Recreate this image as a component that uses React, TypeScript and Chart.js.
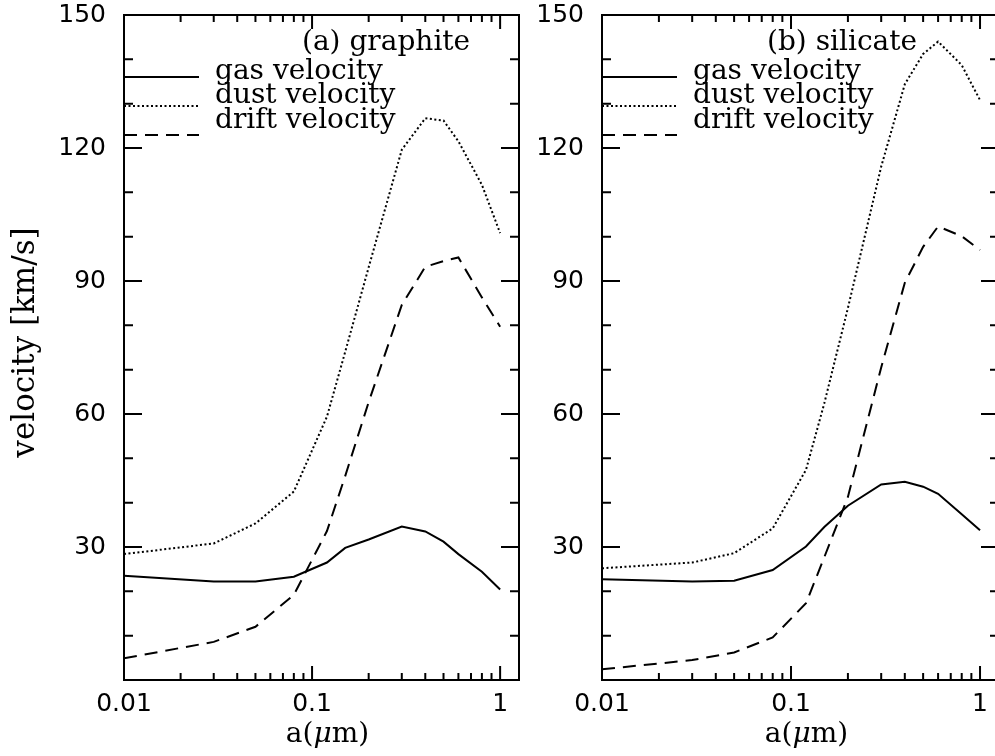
import { useEffect, useRef } from "react";
import { Chart, registerables } from "chart.js";

Chart.register(...registerables);

// ---- data ----
const grainSizes = [0.01, 0.03, 0.05, 0.08, 0.12, 0.15, 0.2, 0.3, 0.4, 0.5, 0.6, 0.8, 1.0];

const graphiteGas = [23.5, 22.2, 22.2, 23.3, 26.5, 29.8, 31.7, 34.6, 33.5, 31.2, 28.4, 24.4, 20.4];
const graphiteDust = [28.4, 30.8, 35.3, 42.5, 59.4, 74.0, 93.1, 119.6, 126.7, 126.2, 121.5, 111.7, 100.8];
const graphiteDrift = [4.9, 8.6, 12.0, 19.2, 33.6, 46.0, 62.7, 84.6, 93.2, 94.5, 95.3, 86.3, 79.7];

const silicateGas = [22.7, 22.2, 22.4, 24.8, 30.1, 34.5, 39.3, 44.1, 44.7, 43.6, 42.0, 37.4, 33.8];
const silicateDust = [25.2, 26.5, 28.6, 34.2, 47.4, 62.4, 83.9, 115.8, 134.4, 141.2, 144.0, 138.7, 130.8];
const silicateDrift = [2.4, 4.5, 6.2, 9.6, 17.3, 27.7, 41.3, 70.5, 89.6, 97.7, 102.3, 100.1, 97.0];

const seriesNames = ["gas velocity", "dust velocity", "drift velocity"];
const panelTitles = ["(a) graphite", "(b) silicate"];
const yTickValues = [30, 60, 90, 120, 150];
const xTickValues = [0.01, 0.1, 1];
const xTickLabels = ["0.01", "0.1", "1"];
const yTitle = "velocity [km/s]";

const X_MIN = 0.01;
const X_MAX = 1.26;
const Y_MIN = 0;
const Y_MAX = 150;

const SANS = '"DejaVu Sans", sans-serif';
const SERIF = '"DejaVu Serif", serif';
const SERIF_SIZE = 28;

const DASHES: number[][] = [[], [2, 2.5], [13, 8]];

type PanelCfg = {
  canvasLeft: number;
  canvasWidth: number;
  axisWidth: number;
  rightPad: number;
  title: string;
  titleDx: number;
  showYTitle: boolean;
  series: number[][];
};

const framePlugin = {
  id: "frame",
  afterDatasetsDraw(chart: any, _args: any, opts: any) {
    const { ctx, chartArea: a, scales } = chart;
    const xs = scales.x;
    const ys = scales.y;
    ctx.save();
    ctx.strokeStyle = "#000";
    ctx.fillStyle = "#000";
    ctx.lineWidth = 2;
    ctx.setLineDash([]);
    ctx.strokeRect(a.left, a.top, a.right - a.left, a.bottom - a.top);

    ctx.beginPath();
    for (let v = Y_MIN; v <= Y_MAX; v += 10) {
      const y = ys.getPixelForValue(v);
      const len = v % 30 === 0 ? 18 : 9;
      ctx.moveTo(a.left, y);
      ctx.lineTo(a.left + len, y);
      ctx.moveTo(a.right, y);
      ctx.lineTo(a.right - len, y);
    }
    for (const d of [0.01, 0.1, 1]) {
      for (let m = 1; m <= 9; m++) {
        const val = m * d;
        if (val < X_MIN - 1e-9 || val > X_MAX) continue;
        const x = xs.getPixelForValue(val);
        const len = m === 1 ? 14 : 7;
        ctx.moveTo(x, a.bottom);
        ctx.lineTo(x, a.bottom - len);
        ctx.moveTo(x, a.top);
        ctx.lineTo(x, a.top + len);
      }
    }
    ctx.stroke();

    // legend
    const legendLines = [77, 106, 135];
    const legendBase = [79, 103, 128];
    ctx.lineWidth = 2;
    for (let i = 0; i < 3; i++) {
      ctx.setLineDash(DASHES[i]);
      ctx.beginPath();
      ctx.moveTo(a.left, legendLines[i]);
      ctx.lineTo(a.left + 75, legendLines[i]);
      ctx.stroke();
    }
    ctx.setLineDash([]);
    ctx.font = `${SERIF_SIZE}px ${SERIF}`;
    ctx.textAlign = "left";
    ctx.textBaseline = "alphabetic";
    for (let i = 0; i < 3; i++) {
      ctx.fillText(seriesNames[i], a.left + 91, legendBase[i]);
    }

    // panel title
    ctx.fillText(opts.title, a.left + opts.titleDx, 50);

    // x title a(μm) with italic mu
    const parts = [
      { t: "a(", f: `${SERIF_SIZE}px ${SERIF}` },
      { t: "\u03bc", f: `italic ${SERIF_SIZE}px ${SERIF}` },
      { t: "m)", f: `${SERIF_SIZE}px ${SERIF}` },
    ];
    let total = 0;
    const widths: number[] = [];
    for (const p of parts) {
      ctx.font = p.f;
      const w = ctx.measureText(p.t).width;
      widths.push(w);
      total += w;
    }
    let x0 = (a.left + a.right) / 2 + 6 - total / 2;
    parts.forEach((p, i) => {
      ctx.font = p.f;
      ctx.fillText(p.t, x0, 742);
      x0 += widths[i];
    });

    // y title
    if (opts.showYTitle) {
      ctx.save();
      ctx.translate(34, (a.top + a.bottom) / 2 - 5);
      ctx.rotate(-Math.PI / 2);
      ctx.font = `31px ${SERIF}`;
      ctx.textAlign = "center";
      ctx.textBaseline = "alphabetic";
      ctx.fillText(yTitle, 0, 0);
      ctx.restore();
    }
    ctx.restore();
  },
};

function Panel({ cfg }: { cfg: PanelCfg }) {
  const ref = useRef<HTMLCanvasElement | null>(null);
  useEffect(() => {
    if (!ref.current) return;
    const datasets = cfg.series.map((vals, i) => ({
      label: seriesNames[i],
      data: grainSizes.map((a, j) => ({ x: a, y: vals[j] })),
      borderColor: "#000",
      backgroundColor: "#000",
      borderWidth: 2,
      borderDash: DASHES[i],
      pointRadius: 0,
      tension: 0,
      fill: false,
    }));
    const chart = new Chart(ref.current, {
      type: "line",
      data: { datasets },
      options: {
        animation: false,
        responsive: false,
        devicePixelRatio: 1,
        layout: { padding: { left: 0, top: 15, right: cfg.rightPad, bottom: 0 } },
        plugins: {
          legend: { display: false },
          tooltip: { enabled: false },
          frame: { title: cfg.title, titleDx: cfg.titleDx, showYTitle: cfg.showYTitle },
        } as any,
        scales: {
          x: {
            type: "logarithmic",
            min: X_MIN,
            max: X_MAX,
            afterBuildTicks: (s: any) => {
              s.ticks = xTickValues.map((v) => ({ value: v }));
            },
            afterFit: (s: any) => {
              s.height = 76;
              s.paddingLeft = 0;
              s.paddingRight = 0;
            },
            ticks: {
              autoSkip: false,
              maxRotation: 0,
              minRotation: 0,
              padding: 9,
              color: "#000",
              font: { family: SANS, size: 25 },
              callback: (_v: any, idx: number) => xTickLabels[idx],
            },
            grid: { display: false, drawTicks: false },
            border: { display: false },
          },
          y: {
            type: "linear",
            min: Y_MIN,
            max: Y_MAX,
            afterBuildTicks: (s: any) => {
              s.ticks = yTickValues.map((v) => ({ value: v }));
            },
            afterFit: (s: any) => {
              s.width = cfg.axisWidth;
              s.paddingTop = 0;
              s.paddingBottom = 0;
            },
            ticks: {
              autoSkip: false,
              padding: 18,
              color: "#000",
              font: { family: SANS, size: 25 },
              callback: (v: any) => String(v),
            },
            grid: { display: false, drawTicks: false },
            border: { display: false },
          },
        },
      } as any,
      plugins: [framePlugin],
    });
    return () => chart.destroy();
  }, [cfg]);
  return (
    <canvas
      ref={ref}
      width={cfg.canvasWidth}
      height={756}
      style={{ position: "absolute", left: cfg.canvasLeft, top: 0, width: cfg.canvasWidth, height: 756 }}
    />
  );
}

const panels: PanelCfg[] = [
  {
    canvasLeft: 0,
    canvasWidth: 540,
    axisWidth: 124,
    rightPad: 21,
    title: panelTitles[0],
    titleDx: 178,
    showYTitle: true,
    series: [graphiteGas, graphiteDust, graphiteDrift],
  },
  {
    canvasLeft: 530,
    canvasWidth: 475,
    axisWidth: 72,
    rightPad: 6,
    title: panelTitles[1],
    titleDx: 165,
    showYTitle: false,
    series: [silicateGas, silicateDust, silicateDrift],
  },
];

export default function App() {
  return (
    <div
      style={{
        position: "fixed",
        left: 0,
        top: 0,
        width: 995,
        height: 756,
        overflow: "hidden",
        background: "#fff",
      }}
    >
      <Panel cfg={panels[0]} />
      <Panel cfg={panels[1]} />
    </div>
  );
}
